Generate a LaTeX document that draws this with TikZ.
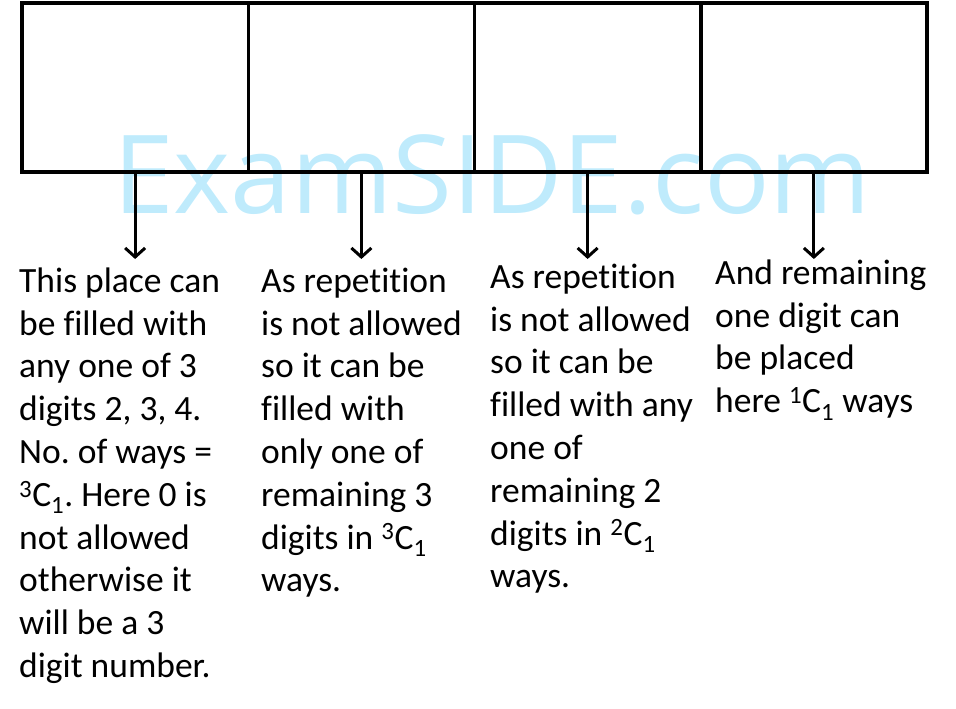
\documentclass[tikz,border=0pt]{standalone}
\usepackage{fontspec}
\setmainfont{Carlito}[Ligatures=NoCommon]
\newfontfamily\wmfont{Open Sans}
\usetikzlibrary{arrows.meta}
\definecolor{wm}{RGB}{191,235,252}
\frenchspacing
\begin{document}
\begin{tikzpicture}[x=1pt,y=-1pt,
  cell/.style={draw,line width=3.5pt,minimum width=226.25pt,minimum height=169pt,inner sep=0pt},
  arr/.style={line width=3pt,-{Straight Barb[length=9pt,width=20pt]}},
  txt/.style={anchor=north west,inner sep=0pt,align=left,font=\fontsize{35.5}{42.8}\selectfont},
  wmark/.style={anchor=base west,inner sep=0pt,text=wm,font=\wmfont\fontsize{109}{109}\selectfont}]
\useasboundingbox (0,0) rectangle (956,709);
\node[wmark] (wm) at (113,213) {ExamSIDE.com};
\node[cell] (c1) at (135.125,87.5) {};
\node[cell] (c2) at (361.375,87.5) {};
\node[cell] (c3) at (587.625,87.5) {};
\node[cell] (c4) at (813.875,87.5) {};
\coordinate (a1) at (135.125,259);
\coordinate (a2) at (361.375,259);
\coordinate (a3) at (587.625,259);
\coordinate (a4) at (813.875,259);
\draw[arr] (c1.south) -- (a1);
\draw[arr] (c2.south) -- (a2);
\draw[arr] (c3.south) -- (a3);
\draw[arr] (c4.south) -- (a4);
\node[txt] (t1) at (19,262) {\rule{0pt}{30pt}This place can\\be filled with\\any one of 3\\digits 2, 3, 4.\\No. of ways =\\\textsuperscript{3}C\textsubscript{1}. Here 0 is\\not allowed\\otherwise it\\will be a 3\\digit number.};
\node[txt] (t2) at (261,262) {\rule{0pt}{30pt}As repetition\\is not allowed\\so it can be\\filled with\\only one of\\remaining 3\\digits in \textsuperscript{3}C\textsubscript{1}\\ways.};
\node[txt] (t3) at (490,258) {\rule{0pt}{30pt}As repetition\\is not allowed\\so it can be\\filled with any\\one of\\remaining 2\\digits in \textsuperscript{2}C\textsubscript{1}\\ways.};
\node[txt] (t4) at (715,254) {\rule{0pt}{30pt}And remaining\\one digit can\\be placed\\here \textsuperscript{1}C\textsubscript{1} ways};
\end{tikzpicture}
\end{document}
